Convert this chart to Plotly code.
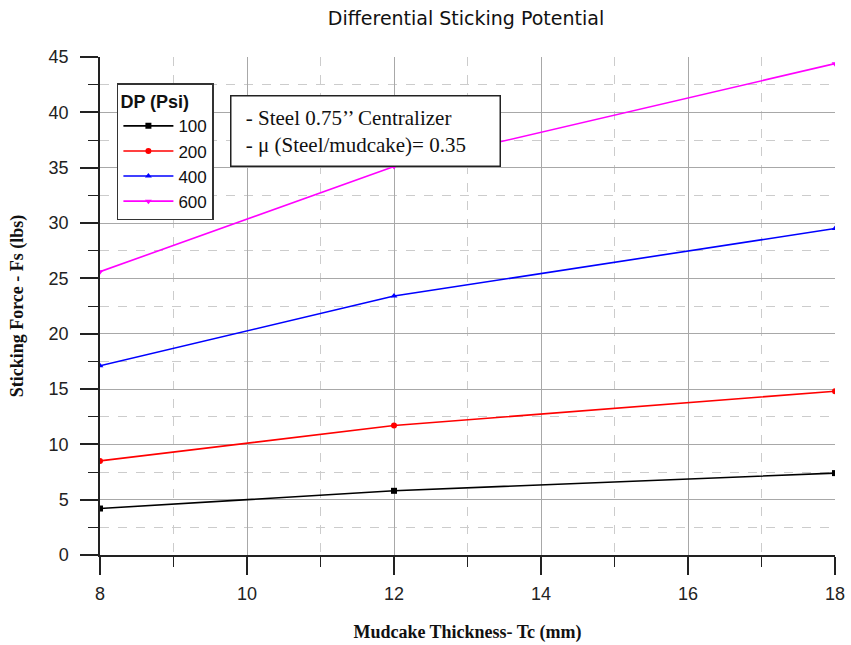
import plotly.graph_objects as go

thickness = [8, 12, 18]
dp_labels = ["100", "200", "400", "600"]
force_100 = [4.2, 5.8, 7.4]
force_200 = [8.5, 11.7, 14.8]
force_400 = [17.1, 23.4, 29.5]
force_600 = [25.6, 35.1, 44.4]

series = [
    ("100", force_100, "#000000", "square"),
    ("200", force_200, "#ff0000", "circle"),
    ("400", force_400, "#0000ff", "triangle-up"),
    ("600", force_600, "#ff00ff", "triangle-down"),
]

fig = go.Figure()
for name, ys, color, sym in series:
    fig.add_trace(go.Scatter(
        x=thickness, y=ys, name=name, mode="lines+markers",
        line=dict(color=color, width=1.6),
        marker=dict(symbol=sym, size=6, color=color),
    ))

tickfont = dict(family="Liberation Sans, Arial", size=18, color="#222")
serif_bold = dict(family="Liberation Serif, Times New Roman", size=18, color="#111")
TC = "#222"

common_grid = dict(
    showgrid=True, gridcolor="#a8a8a8", gridwidth=1,
    showline=True, linecolor=TC, linewidth=1.5,
    zeroline=False,
)


def overlay_axis(base, side, rng, dtick, mdtick, major_len, minor_len, line):
    return dict(
        overlaying=base, side=side, range=rng, dtick=dtick, tick0=rng[0],
        ticks="inside", ticklen=major_len, tickwidth=1.5, tickcolor=TC,
        showticklabels=False, showgrid=False, zeroline=False,
        showline=line, linecolor=TC, linewidth=1.5,
        minor=dict(dtick=mdtick, ticks="inside", ticklen=minor_len, tickwidth=1.2,
                   tickcolor=TC, showgrid=False),
    )


fig.update_layout(
    width=851, height=645,
    margin=dict(l=100, r=16, t=57, b=90, autoexpand=False),
    paper_bgcolor="white", plot_bgcolor="white",
    title=dict(text="Differential Sticking Potential", x=466 / 851, xanchor="center",
               y=1 - 18 / 645, yanchor="middle",
               font=dict(family="DejaVu Sans, Verdana", size=19, color="#111")),
    xaxis=dict(
        range=[8, 18], dtick=2, tick0=8, ticks="outside", ticklen=18, tickwidth=1.5,
        tickcolor=TC, tickfont=tickfont, ticklabelstandoff=4,
        minor=dict(dtick=1, ticks="outside", ticklen=10, tickwidth=1.2, tickcolor=TC,
                   showgrid=True, gridcolor="#cccccc", griddash="dash", gridwidth=1),
        title=dict(text="<b>Mudcake Thickness- Tc (mm)</b>", font=serif_bold, standoff=22),
        automargin=False,
        **common_grid,
    ),
    yaxis=dict(
        range=[0, 45], dtick=5, tick0=0, ticks="outside", ticklen=18, tickwidth=1.5,
        tickcolor=TC, tickfont=tickfont, ticklabelstandoff=8,
        minor=dict(dtick=2.5, ticks="outside", ticklen=10, tickwidth=1.2, tickcolor=TC,
                   showgrid=True, gridcolor="#cccccc", griddash="dash", gridwidth=1),
        title=dict(text="<b>Sticking Force - Fs (lbs)</b>", font=serif_bold, standoff=20),
        automargin=False,
        **common_grid,
    ),
    xaxis2=overlay_axis("x", "top", [8, 18], 2, 1, 18, 10, True),
    yaxis2=overlay_axis("y", "right", [0, 45], 5, 2.5, 18, 10, True),
    xaxis3=overlay_axis("x", "bottom", [8, 18], 2, 1, 10, 10, False),
    yaxis3=overlay_axis("y", "left", [0, 45], 5, 2.5, 10, 10, False),
    legend=dict(
        x=0.023, y=0.947, xanchor="left", yanchor="top",
        bgcolor="white", bordercolor="#333", borderwidth=1.5,
        font=dict(family="Liberation Sans, Arial", size=17, color="#111"),
        title=dict(text="<b>DP (Psi)</b>",
                   font=dict(family="Liberation Sans, Arial", size=18, color="#111")),
        tracegroupgap=0, itemwidth=50,
    ),
    showlegend=True,
)

fig.add_annotation(
    xref="paper", yref="paper", x=(230 - 100) / 735, y=(555 - 95) / 498,
    xanchor="left", yanchor="top",
    text="&nbsp;- Steel 0.75’’ Centralizer<br>&nbsp;- μ (Steel/mudcake)= 0.35",
    align="left", showarrow=False, width=250,
    font=dict(family="Liberation Serif, Times New Roman", size=21, color="#111"),
    bgcolor="white", bordercolor=TC, borderwidth=1.5, borderpad=9,
)

fig.write_html("out.html")
